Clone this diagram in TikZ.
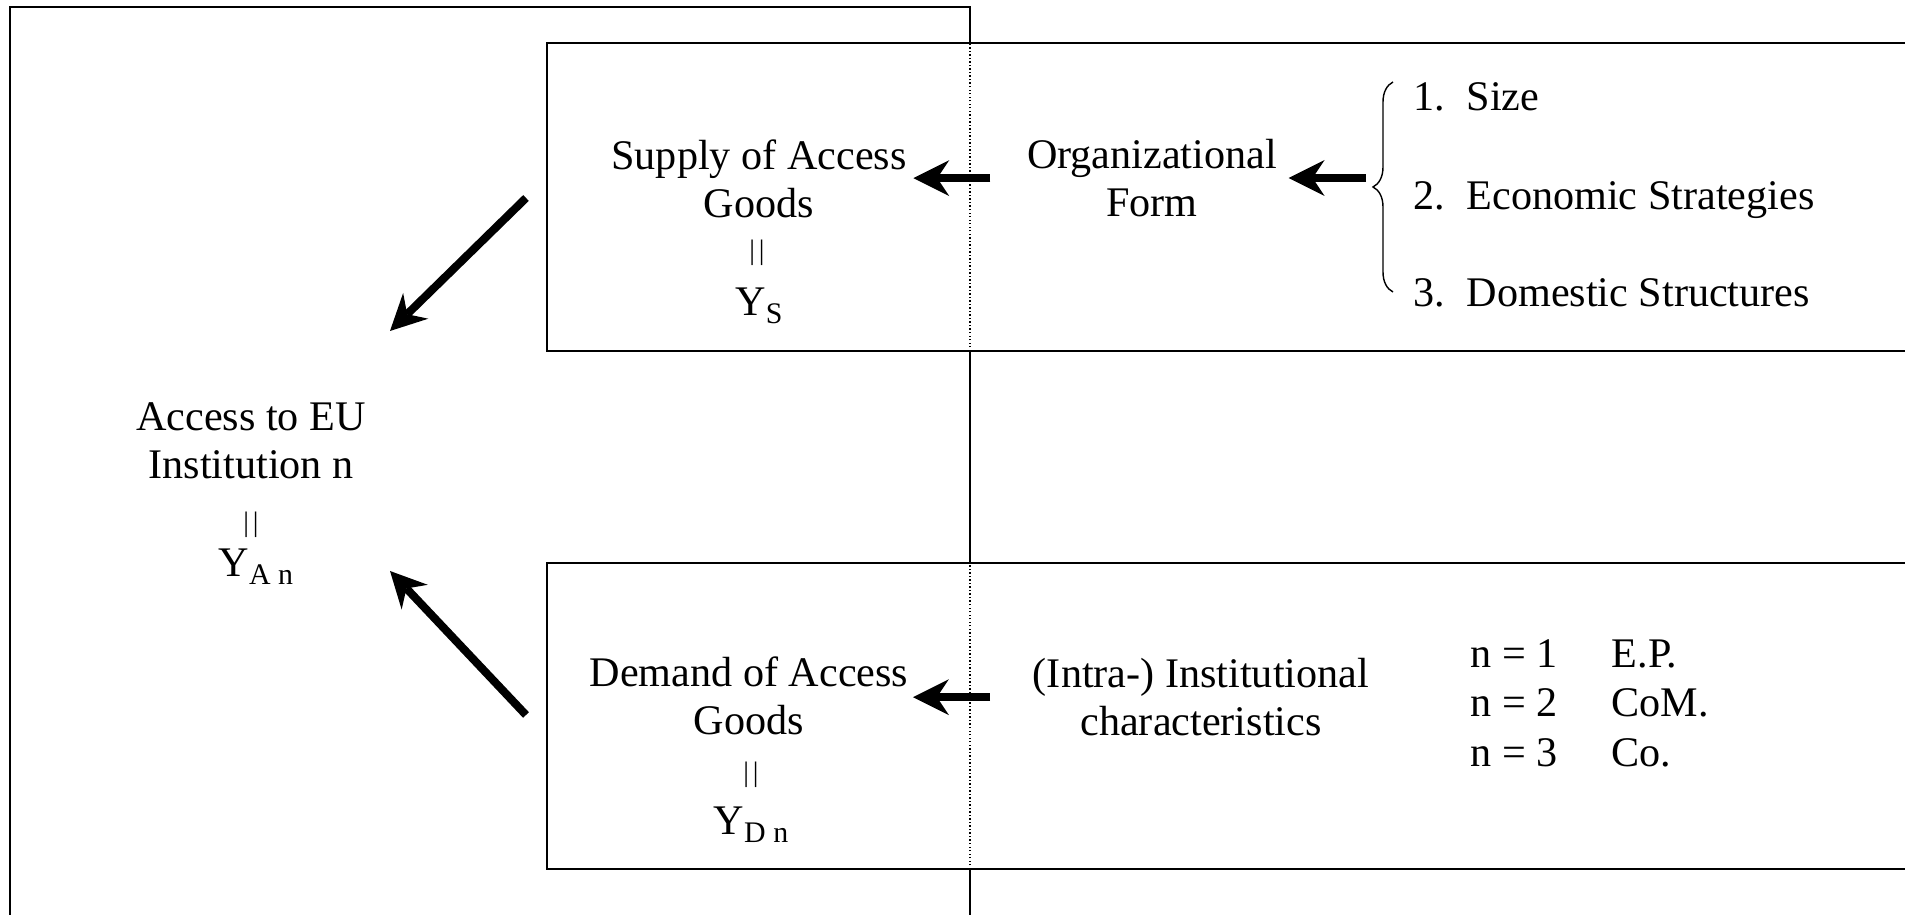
\documentclass[tikz,border=0pt]{standalone}
\usepackage{fontspec}
\setmainfont{Liberation Serif}
\usepackage{tikz}
\usetikzlibrary{positioning, arrows.meta, decorations.pathreplacing}

\newcommand{\ysub}[1]{Y\raisebox{-2pt}{\fontsize{8.5}{9}\selectfont #1}}
\newcommand{\eqbar}{{\fontsize{8}{9}\selectfont |\hspace{0.04cm}|}}

\begin{document}
\begin{tikzpicture}[
    txt/.style       = {inner sep=0pt, align=center, font=\fontsize{12}{13.9}\selectfont},
    thinframe/.style = {line width=0.4pt},
    boxframe/.style  = {line width=0.6pt, fill=white},
    dots/.style      = {line width=0.4pt, dash pattern=on 0.4pt off 0.6pt},
    bigarrow/.style  = {line width=2.3pt, -{Stealth[length=0.36cm, width=0.36cm, inset=0.12cm, line width=0pt]}}
  ]
  \useasboundingbox (0,0) rectangle (19.05,9.15);
  \clip (0,0) rectangle (19.05,9.15);

  \draw     [thinframe] (0.10,-0.5) |- (9.70,9.08) -- (9.70,-0.5);
  \filldraw [boxframe]  (5.47,5.64) rectangle (19.5,8.72);
  \filldraw [boxframe]  (5.47,0.46) rectangle (19.5,3.52);
  \draw     [dots]      (9.70,5.64) -- (9.70,8.72);
  \draw     [dots]      (9.70,0.46) -- (9.70,3.52);

  \node [txt, anchor=base] (access)   at (2.51,4.36) {Access to EU\\Institution n};
  \node [txt]              (accesseq) at (2.51,3.90) {\eqbar};
  \node [txt, anchor=base] (yan)      at (2.56,3.38) {\ysub{A n}};

  \node [txt, anchor=base] (supply)   at (7.59,6.97) {Supply of Access\\Goods};
  \node [txt]              (supplyeq) at (7.57,6.62) {\eqbar};
  \node [txt, anchor=base] (ys)       at (7.59,5.99) {\ysub{S}};

  \node [txt, anchor=base] (demand)   at (7.49,1.80) {Demand of Access\\Goods};
  \node [txt]              (demandeq) at (7.51,1.40) {\eqbar};
  \node [txt, anchor=base] (ydn)      at (7.51,0.80) {\ysub{D n}};

  \node [txt, anchor=base] (orgform)  at (11.52,6.98) {Organizational\\Form};
  \node [txt, anchor=base] (intra)    at (12.01,1.79) {(Intra-) Institutional\\characteristics};

  \node [txt, anchor=base west] (size)     at (14.13,8.04) {\makebox[0.53cm][l]{1.}Size};
  \node [txt, anchor=base west] (strategy) at (14.13,7.05) {\makebox[0.53cm][l]{2.}Economic Strategies};
  \node [txt, anchor=base west] (domestic) at (14.13,6.08) {\makebox[0.53cm][l]{3.}Domestic Structures};

  \node [txt, anchor=base west] (ep)  at (14.70,2.47) {\makebox[1.41cm][l]{n = 1}E.P.};
  \node [txt, anchor=base west] (com) at (14.70,1.98) {\makebox[1.41cm][l]{n = 2}CoM.};
  \node [txt, anchor=base west] (co)  at (14.70,1.48) {\makebox[1.41cm][l]{n = 3}Co.};

  \draw [line width=0.4pt, decorate, decoration={brace, amplitude=0.2cm}] (13.93,6.23) -- (13.93,8.33);
  \coordinate (bracetip)   at (13.66,7.37);

  \coordinate (supplyout)  at (5.26,7.17);
  \coordinate (accesstop)  at (3.90,5.84);
  \coordinate (demandout)  at (5.26,2.00);
  \coordinate (accessbot)  at (3.90,3.44);

  \draw [bigarrow, shorten >=0.11cm] (bracetip) -- (bracetip -| orgform.east);
  \draw [bigarrow, shorten <=0.36cm, shorten >=0.06cm] (orgform.west) -- (orgform.west -| supply.east);
  \draw [bigarrow, shorten <=0.42cm, shorten >=0.04cm] (intra.west) -- (intra.west -| demand.east);
  \draw [bigarrow] (supplyout) -- (accesstop);
  \draw [bigarrow] (demandout) -- (accessbot);
\end{tikzpicture}
\end{document}
